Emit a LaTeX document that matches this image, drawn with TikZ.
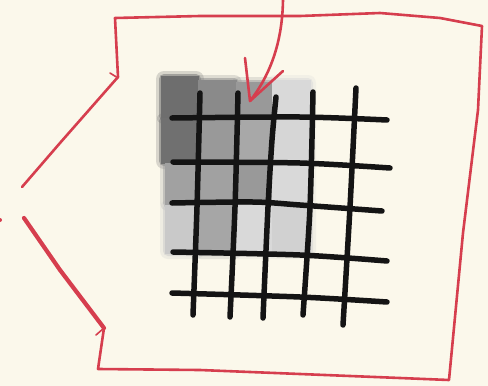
\documentclass[tikz,border=0pt]{standalone}
\definecolor{bg}{HTML}{FBF8EB}
\definecolor{pen}{HTML}{D63E4E}
\begin{document}
\begin{tikzpicture}[x=1pt,y=-1pt,
  redpen/.style={draw=pen,line width=2.6pt,line cap=round,line join=round},
  thickpen/.style={draw=pen,line width=4.2pt,line cap=round,line join=round},
  gridline/.style={draw=black!92,line width=5.5pt,line cap=round,line join=round}]
\fill[bg] (0,0) rectangle (488,386);
\useasboundingbox (0,0) rectangle (488,386);
% shaded cells (soft edges: halos first, then opaque cells)
\def\celllist{
  161/76/199/119/57, 198/80/237/119/46, 236/82/273/119/40, 272/80/311/119/15,
  161/118/199/164/56, 198/118/237/164/40, 236/118/273/164/34, 272/118/311/164/16,
  165/163/199/206/37, 198/163/237/206/37, 236/163/273/206/40, 272/163/311/206/15,
  165/205/199/254/21, 198/205/237/254/35, 236/205/273/254/15, 272/205/311/254/18}
\foreach \xa/\ya/\xb/\yb/\g in \celllist {
  \fill[black!\g, opacity=0.25, rounded corners=8pt] (\xa-5,\ya-5) rectangle (\xb+5,\yb+5);
}
\foreach \xa/\ya/\xb/\yb/\g in \celllist {
  \fill[black!\g, opacity=0.5, rounded corners=5pt] (\xa-2,\ya-2) rectangle (\xb+2,\yb+2);
}
\foreach \xa/\ya/\xb/\yb/\g in \celllist {
  \fill[black!\g] (\xa,\ya) rectangle (\xb,\yb);
}
% grid lines
\draw[gridline] plot[smooth] coordinates {(172,118) (300,117) (387,120)};
\draw[gridline] plot[smooth] coordinates {(173,162) (300,163) (390,168)};
\draw[gridline] plot[smooth] coordinates {(172,203) (253,202) (300,205) (382,211)};
\draw[gridline] plot[smooth] coordinates {(173,252) (300,255) (387,261)};
\draw[gridline] plot[smooth] coordinates {(172,293) (300,297) (387,302)};
\draw[gridline] plot[smooth] coordinates {(200,93) (197,207) (193,315)};
\draw[gridline] plot[smooth] coordinates {(238,93) (235,207) (230,317)};
\draw[gridline] plot[smooth] coordinates {(276,97) (272,140) (268,207) (263,318)};
\draw[gridline] plot[smooth] coordinates {(313,92) (310,207) (303,315)};
\draw[gridline] plot[smooth] coordinates {(356,88) (350,207) (343,325)};
% red outline
\coordinate (ul) at (22,187);
\coordinate (ll) at (24,218);
\draw[redpen] (ul) -- (60,143) -- (118,77) -- (115,18) -- (200,16) -- (300,16)
  -- (380,13) -- (440,18) -- (482,26) -- (478,110) -- (463,233) -- (449,380)
  -- (400,378) -- (300,374) -- (200,370) -- (98,369) -- (104,328);
\draw[redpen, line width=1.6pt] (110,73) -- (118,78);
\draw[redpen, line width=1.6pt] (96,335) -- (104,328);
\draw[thickpen] (104,328) -- (60,270) -- (ll);
\fill[pen] (0,220) circle (2pt);
% arrow
\coordinate (start) at (283,-3);
\coordinate (tip) at (250,101);
\draw[redpen] (start) .. controls (283,45) and (268,78) .. (tip);
\draw[redpen] (245,58) -- (tip) -- (283,71);
\end{tikzpicture}
\end{document}
